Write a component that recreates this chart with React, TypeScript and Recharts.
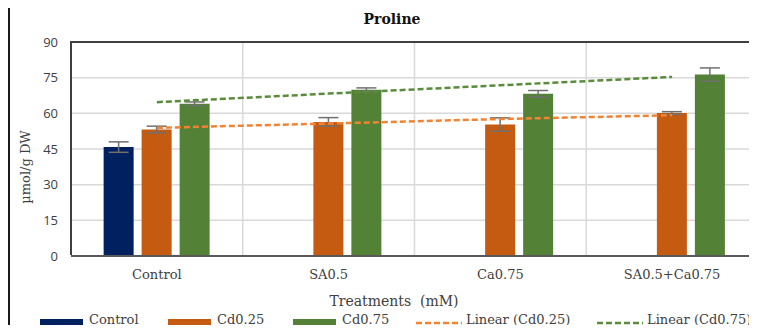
import React from 'react';
import {
  ComposedChart, Bar, Line, XAxis, YAxis, CartesianGrid, ErrorBar,
} from 'recharts';

const categories = ['Control', 'SA0.5', 'Ca0.75', 'SA0.5+Ca0.75'];
const controlValues = [45.8, null, null, null];
const controlErr = [2.2, 0, 0, 0];
const cd025Values = [53.2, 56.4, 55.3, 60.1];
const cd025Err = [1.4, 1.8, 2.8, 0.6];
const cd075Values = [64.0, 69.9, 68.2, 76.3];
const cd075Err = [0.8, 0.8, 1.4, 2.8];
// trendlines as drawn in the reference (Excel "Linear" trendline)
const trendCd025 = [53.9, 55.7, 57.6, 59.2];
const trendCd075 = [64.7, 68.3, 71.8, 75.3];
const yTicks = [0, 15, 30, 45, 60, 75, 90];

const data = categories.map((name, i) => ({
  name,
  control: controlValues[i],
  controlErr: controlErr[i],
  cd025: cd025Values[i],
  cd025Err: cd025Err[i],
  cd075: cd075Values[i],
  cd075Err: cd075Err[i],
  t025: trendCd025[i],
  t075: trendCd075[i],
}));

const NAVY = '#002060';
const ORANGE = '#C55A11';
const GREEN = '#538135';
const ORANGE_T = '#F08434';
const GREEN_T = '#5A8C3C';
const SERIF = '"DejaVu Serif", serif';
const SANS = '"Open Sans", sans-serif';

const PLOT = { left: 71, top: 42, right: 758, bottom: 256 };

export default function App() {
  return (
    <div style={{ position: 'relative', margin: -8, width: 757, height: 333, overflow: 'hidden', background: '#fff' }}>
      <div style={{ position: 'absolute', left: 8, top: 6, width: 770, height: 360, border: '2px solid #1a1a1a', boxSizing: 'border-box' }} />
      <div style={{ position: 'absolute', left: 0, top: 0 }}>
        <ComposedChart
          width={760}
          height={333}
          data={data}
          margin={{ top: PLOT.top, right: 760 - PLOT.right, bottom: 333 - PLOT.bottom - 30, left: 0 }}
          barCategoryGap="19%"
          barGap={8}
        >
          <CartesianGrid
            stroke="#d9d9d9"
            strokeWidth={1.5}
            verticalCoordinatesGenerator={({ offset }: any) =>
              [1, 2, 3].map((i) => offset.left + (offset.width * i) / 4)}
          />
          <XAxis
            dataKey="name"
            height={30}
            tickLine={false}
            tickSize={0}
            tickMargin={14}
            axisLine={{ stroke: '#595959', strokeWidth: 2 }}
            tick={{ fontFamily: SERIF, fontSize: 13, fill: '#404040' }}
          />
          <YAxis
            width={PLOT.left}
            domain={[0, 90]}
            ticks={yTicks}
            tickLine={false}
            tickSize={0}
            tickMargin={13}
            axisLine={false}
            tick={{ fontFamily: SANS, fontSize: 13, fill: '#404040' }}
          />
          <Bar dataKey="control" fill={NAVY} isAnimationActive={false}>
            <ErrorBar dataKey="controlErr" width={10} stroke="#707070" strokeWidth={1.5} />
          </Bar>
          <Bar dataKey="cd025" fill={ORANGE} isAnimationActive={false}>
            <ErrorBar dataKey="cd025Err" width={10} stroke="#707070" strokeWidth={1.5} />
          </Bar>
          <Bar dataKey="cd075" fill={GREEN} isAnimationActive={false}>
            <ErrorBar dataKey="cd075Err" width={10} stroke="#707070" strokeWidth={1.5} />
          </Bar>
          <Line dataKey="t025" stroke={ORANGE_T} strokeWidth={2.5} strokeDasharray="6 3" dot={false} activeDot={false} isAnimationActive={false} />
          <Line dataKey="t075" stroke={GREEN_T} strokeWidth={2.5} strokeDasharray="6 3" dot={false} activeDot={false} isAnimationActive={false} />
        </ComposedChart>
      </div>
      {/* plot area frame */}
      <div style={{ position: 'absolute', left: PLOT.left, top: PLOT.top - 1, width: PLOT.right - PLOT.left + 4, height: PLOT.bottom - PLOT.top, borderTop: '2px solid #404040', borderLeft: '2px solid #404040', boxSizing: 'border-box', marginLeft: -1 }} />
      <div style={{ position: 'absolute', left: 392, top: 11, transform: 'translateX(-50%)', fontFamily: SERIF, fontWeight: 'bold', fontSize: 14, color: '#111', whiteSpace: 'nowrap' }}>
        Proline
      </div>
      <div style={{ position: 'absolute', left: 25, top: 167, transform: 'translate(-50%, -50%) rotate(-90deg)', fontFamily: SERIF, fontSize: 13, color: '#404040', whiteSpace: 'nowrap' }}>
        µmol/g DW
      </div>
      <div style={{ position: 'absolute', left: 394, top: 301, transform: 'translate(-50%, -50%)', fontFamily: SERIF, fontSize: 14, color: '#404040', whiteSpace: 'pre' }}>
        {'Treatments  (mM)'}
      </div>
      <div style={{ position: 'absolute', top: 311, left: 0, width: 757, height: 18, fontFamily: SERIF, fontSize: 13, lineHeight: '18px', color: '#404040' }}>
        <LegendItem left={40} label="Control" color={NAVY} />
        <LegendItem left={168} label="Cd0.25" color={ORANGE} />
        <LegendItem left={293} label="Cd0.75" color={GREEN} />
        <LegendItem left={416} label="Linear (Cd0.25)" color={ORANGE_T} dashed />
        <LegendItem left={597} label="Linear (Cd0.75)" color={GREEN_T} dashed />
      </div>
    </div>
  );
}

function LegendItem({ left, label, color, dashed }: { left: number; label: string; color: string; dashed?: boolean }) {
  return (
    <div style={{ position: 'absolute', left, top: 0, display: 'flex', alignItems: 'center', height: 18, whiteSpace: 'nowrap' }}>
      {dashed ? (
        <svg width={46} height={8} style={{ marginRight: 4, display: 'block', marginTop: 5 }}>
          <line x1={0} y1={4} x2={46} y2={4} stroke={color} strokeWidth={2.5} strokeDasharray="6 3" />
        </svg>
      ) : (
        <div style={{ width: 43, height: 7, background: color, marginRight: 6, marginTop: 5 }} />
      )}
      <span style={{ display: 'block', lineHeight: '18px' }}>{label}</span>
    </div>
  );
}
